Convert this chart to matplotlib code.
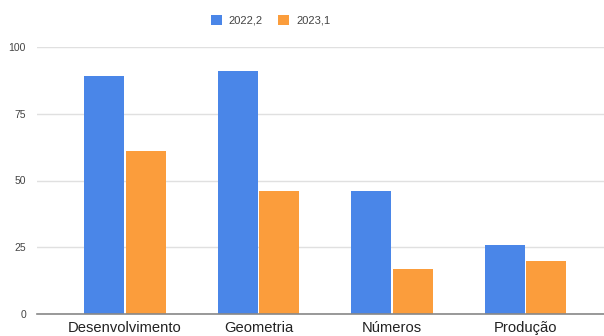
import matplotlib
matplotlib.use("Agg")
import matplotlib.pyplot as plt
import numpy as np

categories = ["Desenvolvimento", "Geometria", "Números", "Produção"]
series_names = ["2022,2", "2023,1"]
values_2022_2 = [89, 91, 46, 26]
values_2023_1 = [61, 46, 17, 20]
yticks = [0, 25, 50, 75, 100]

plt.rcParams['font.family'] = ['Liberation Sans', 'DejaVu Sans']

fig = plt.figure(figsize=(6.04, 3.36), dpi=100)
ax = fig.add_axes([37/604, 1-314/336, 1-37/604, (314-47)/336])

x = np.arange(len(categories))
w = 0.3
off = 0.155
ax.bar(x - off, values_2022_2, w, color="#4a86e8", label=series_names[0], zorder=3)
ax.bar(x + off, values_2023_1, w, color="#fb9d3c", label=series_names[1], zorder=3)

ax.set_ylim(0, 100)
ax.set_xlim(-0.66, 3.59)
ax.set_yticks(yticks)
ax.set_yticklabels([str(v) for v in yticks], fontsize=7.5, color="#444444")
ax.set_xticks(x)
ax.set_xticklabels(categories, fontsize=10.6, color="#222222")
ax.tick_params(axis='both', length=0)
ax.tick_params(axis='y', pad=8)
ax.tick_params(axis='x', pad=5)
ax.grid(axis='y', color="#e0e0e0", linewidth=1, zorder=0)
for s in ["top", "right", "left"]:
    ax.spines[s].set_visible(False)
ax.spines["bottom"].set_color("#888888")
ax.spines["bottom"].set_linewidth(1.2)
ax.spines["bottom"].set_zorder(4)

fig.legend(loc="upper center", bbox_to_anchor=(0.448, 0.985), ncol=2, frameon=False,
           fontsize=8, handlelength=1.0, handleheight=1.0, handletextpad=0.6,
           columnspacing=1.4, labelcolor="#444444")

fig.savefig("out.png", dpi=100)
